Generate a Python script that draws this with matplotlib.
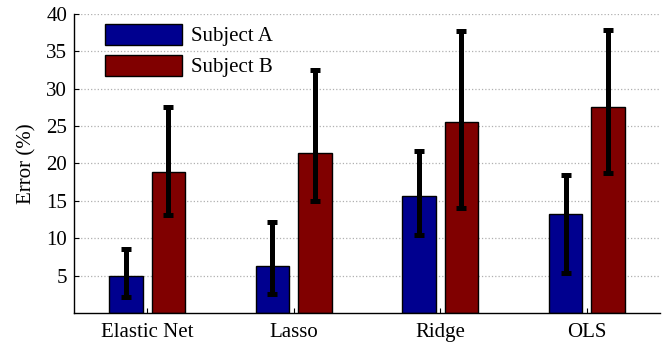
import matplotlib
matplotlib.use("Agg")
import matplotlib.pyplot as plt
import numpy as np

# Data (percent error)
methods = ["Elastic Net", "Lasso", "Ridge", "OLS"]
subject_a = [4.9, 6.25, 15.7, 13.3]
subject_a_low = [2.1, 2.5, 10.4, 5.3]
subject_a_high = [8.6, 12.2, 21.7, 18.4]
subject_b = [18.8, 21.4, 25.5, 27.5]
subject_b_low = [13.1, 15.0, 14.0, 18.7]
subject_b_high = [27.6, 32.5, 37.7, 37.8]

plt.rcParams["font.family"] = ["Liberation Serif", "DejaVu Serif"]
plt.rcParams["font.size"] = 15

fig = plt.figure(figsize=(6.64, 3.48), dpi=100)
ax = fig.add_axes([0.1114, 0.1006, 0.8826, 0.8592])

x = np.arange(1, len(methods) + 1)
width = 0.226
offset = 0.145

a = np.array(subject_a)
b = np.array(subject_b)
a_err = [a - np.array(subject_a_low), np.array(subject_a_high) - a]
b_err = [b - np.array(subject_b_low), np.array(subject_b_high) - b]

err_kw = dict(ecolor="black", elinewidth=3.6, capsize=3.5, capthick=3.6)
ax.bar(x - offset, a, width, color="#00008F", edgecolor="black", linewidth=1.0,
       yerr=a_err, error_kw=err_kw, label="Subject A", zorder=2)
ax.bar(x + offset, b, width, color="#800000", edgecolor="black", linewidth=1.0,
       yerr=b_err, error_kw=err_kw, label="Subject B", zorder=2)

ax.set_xlim(0.5, 4.5)
ax.set_ylim(0, 40)
ax.set_xticks(x)
ax.set_xticklabels(methods)
ax.set_yticks(range(5, 41, 5))
ax.tick_params(direction="in", length=3.5, width=0.8, colors="black")
ax.tick_params(axis="y", pad=5)
ax.tick_params(axis="x", pad=7)

ax.yaxis.grid(True, linestyle=":", color="#b0b0b0", linewidth=0.9, zorder=0)
ax.set_axisbelow(True)

for side in ("top", "right"):
    ax.spines[side].set_visible(False)
ax.spines["left"].set_linewidth(1.0)
ax.spines["bottom"].set_linewidth(1.0)

ax.set_ylabel("Error (%)", labelpad=7)

ax.legend(loc="upper left", bbox_to_anchor=(0.053, 0.968), frameon=False,
          borderpad=0, borderaxespad=0, handlelength=3.7, handleheight=1.2,
          labelspacing=0.4, handletextpad=0.45)

fig.savefig("out.png", dpi=100)
